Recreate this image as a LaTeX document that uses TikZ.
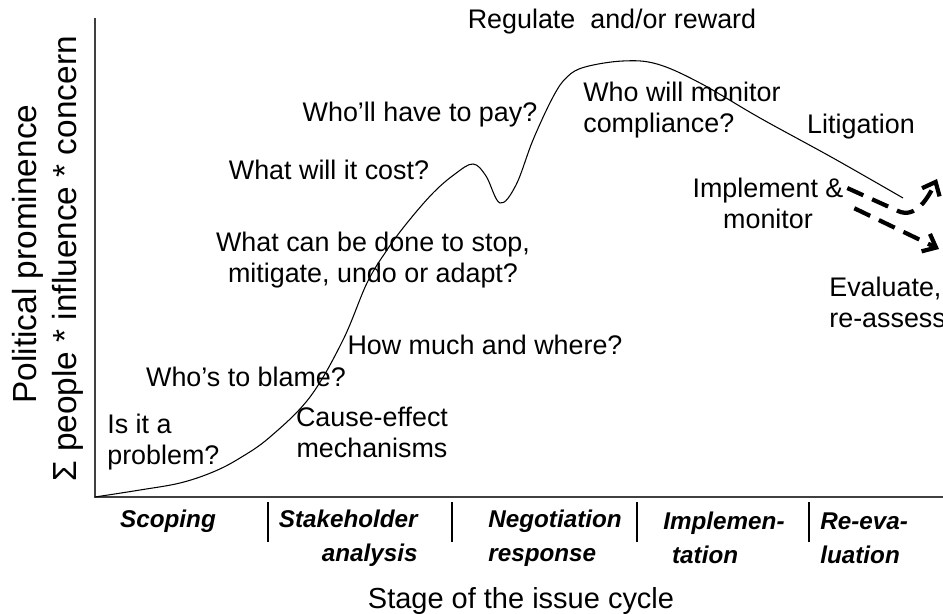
\documentclass[tikz,border=0pt]{standalone}
\usepackage{fontspec}
\setmainfont{Liberation Sans}
\usetikzlibrary{arrows.meta}
\begin{document}
\begin{tikzpicture}[x=0.02cm, y=-0.02cm,
  frage/.style={inner sep=0pt, font=\fontsize{15.3}{17.6}\selectfont},
  phase/.style={inner sep=0pt, font=\fontsize{13.8}{19.3}\selectfont\bfseries\itshape},
  achse/.style={inner sep=0pt, font=\fontsize{19}{22}\selectfont},
  trend/.style={line width=2.4pt, dash pattern=on 10pt off 5.5pt,
    -{Straight Barb[length=6.5pt,width=11pt]}}]
  \useasboundingbox (0,0) rectangle (943,614);
  % Achsen
  \draw[line width=1.1pt, black!75] (95,18) -- (95,497) -- (943,497);
  \node[achse, rotate=90] (prominence) at (28,254) {Political prominence};
  \node[achse, rotate=90] (formula) at (68,259) {Σ people * influence * concern};
  \node[achse, font=\fontsize{16.5}{19}\selectfont, anchor=base] (cycle) at (521,608) {Stage of the issue cycle};
  % Phasen
  \foreach \x in {268,452,637,809}
    \draw[line width=0.7pt] (\x,502) -- (\x,542);
  \node[phase] (scoping) at (168,521) {Scoping};
  \node[phase, align=right, anchor=east] (stakeholder) at (418,538) {Stakeholder\\analysis};
  \node[phase, align=left, anchor=west] (negotiation) at (488,538) {Negotiation\\response};
  \node[phase, align=left, anchor=west] (implementation) at (663,538) {Implemen-\\\hspace{5pt}tation};
  \node[phase, align=left, anchor=west] (reevaluation) at (820,538) {Re-eva-\\luation};
  % Kurve
  \draw[line width=0.6pt] plot[smooth, tension=0.6] coordinates {
    (95,497) (140,490) (180,483) (213,472) (240,458) (270,437) (310,397)
    (343,340) (367,283) (387,250) (407,223) (433,193) (455,174) (473,164)
    (486,176) (500,203) (516,185) (533,140) (553,97) (567,77) (585,67)
    (623,61) (657,64) (700,83) (760,118) (833,158) (903,198)};
  % Fragen
  \node[frage] (regulate) at (612,22) {Regulate~ and/or reward};
  \node[frage] (pay) at (420,115) {Who’ll have to pay?};
  \node[frage, align=left, anchor=west] (monitor) at (583,110) {Who will monitor\\compliance?};
  \node[frage] (litigation) at (861,127) {Litigation};
  \node[frage] (cost) at (329,170) {What will it cost?};
  \node[frage, align=center] (implement) at (768,203) {Implement \&\\monitor};
  \node[frage, align=center] (stop) at (373,260) {What can be done to stop,\\mitigate, undo or adapt?};
  \node[frage, align=left, anchor=west] (evaluate) at (829,302) {Evaluate,\\re-assess};
  \node[frage] (howmuch) at (485,345) {How much and where?};
  \node[frage] (blame) at (246,377) {Who’s to blame?};
  \node[frage, align=left, anchor=west] (problem) at (107,442) {Is it a\\problem?};
  \node[frage, align=center] (cause) at (372,432) {Cause-effect\\mechanisms};
  % Pfeile
  \coordinate (again) at (937,179);
  \coordinate (down) at (939,249);
  \draw[trend] ([xshift=2pt,yshift=8.5pt]implement.east) -- (898,211)
    to[out=-25,in=-115] (again);
  \draw[trend] ([xshift=6pt,yshift=-3pt]implement.east) -- (down);
\end{tikzpicture}
\end{document}
